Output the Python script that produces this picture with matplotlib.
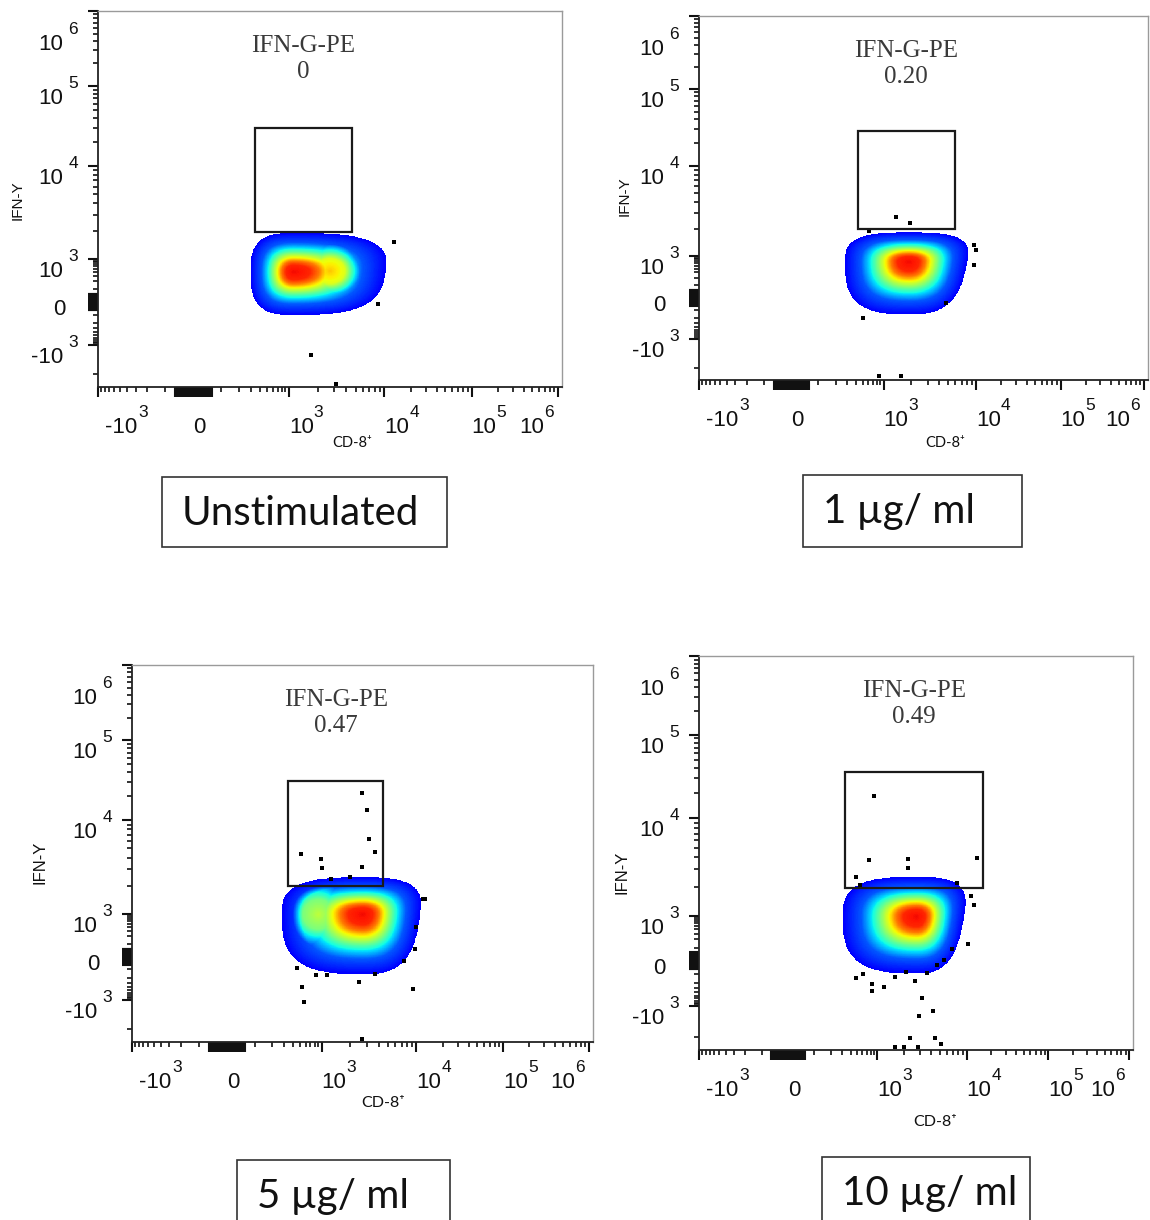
import numpy as np
import matplotlib
matplotlib.use('Agg')
import matplotlib.pyplot as plt
from matplotlib.patches import Rectangle

# ---------------- values ----------------
panel_names = ['Unstimulated', '1 µg/ ml', '5 µg/ ml', '10 µg/ ml']
gate_pct = ['0', '0.20', '0.47', '0.49']

# gate rectangles (CD-8 range, IFN-Y range)
gate_cd8 = [(334, 4570), (428, 5890), (344, 4470), (324, 15850)]
gate_ifn = [(1950, 29500), (2000, 28300), (1995, 30900), (1950, 35500)]

# outer edge of the cell cloud
cloud_cd8 = [(294, 12000), (276, 9300), (276, 12500), (304, 11200)]
cloud_ifn = [(-103, 1900), (-150, 1840), (-150, 2450), (-92, 2510)]

# densest spot and a weaker second lobe
peak_cd8 = [1120, 1880, 2720, 2750]
peak_ifn = [402, 665, 971, 960]
lobe_cd8 = [2700, np.nan, 900, np.nan]
lobe_ifn = [430, np.nan, 950, np.nan]
lobe_level = [0.7, 0, 0.58, 0]

# single events drawn outside the cloud
dots_cd8 = [
    [13100, 8700, 1700, 3160],
    [1350, 1950, 9500, 10000, 9500, 513, 4790, 860, 1550, 616],
    [2650, 3000, 3150, 3630, 513, 971, 1000, 2650, 1260, 2000,
     12000, 12600, 10000, 9700, 7400, 9100, 2500, 529, 562, 455,
     835, 1150, 3630, 2650],
    [887, 762, 2190, 2190, 13500, 483, 547, 7760, 11200, 12300,
     10500, 6760, 5620, 4680, 483, 616, 835, 835, 1180, 1590,
     2090, 2630, 3630, 3170, 4170, 2950, 2290, 4370, 5130, 1590,
     2000, 2880],
]
dots_ifn = [
    [1510, -15, -1700, -8500],
    [2690, 2340, 1320, 1180, 529, -200, -40, -8000, -8000, 1900],
    [22100, 13600, 6300, 4570, 4370, 3840, 3090, 3160, 2350, 2450,
     1450, 1450, 377, 53, -27, -455, -276, -402, -1100, -86,
     -160, -160, -150, -8500],
    [18600, 3700, 3820, 3080, 3960, 2520, 2090, 2190, 1610, 1280,
     135, 86, 6, -30, -135, -98, -227, -355, -276, -125,
     -78, -173, -92, -579, -1290, -1660, -5300, -5300, -7400, -8500,
     -8500, -8500],
]

major_vals = [-1000, 0, 1000, 1e4, 1e5, 1e6]


# ---------------- biexponential-like axis ----------------
def t_of(v):
    v = np.asarray(v, float)
    a = np.abs(v)
    inner = np.arcsinh(a / 100.0) / np.arcsinh(10.0)
    outer = 1 + np.log10(np.maximum(a, 1000.0) / 1000.0)
    return np.sign(v) * np.where(a <= 1000, inner, outer)


def v_of(t):
    t = np.asarray(t, float)
    a = np.abs(t)
    inner = 100 * np.sinh(np.minimum(a, 1) * np.arcsinh(10.0))
    outer = 1000 * 10 ** (np.maximum(a, 1) - 1)
    return np.sign(t) * np.where(a <= 1, inner, outer)


XT = [-2, -1, 0, 1, 2, 3, 4, 5]
XP = [-95, 0, 95, 190, 285, 372, 458, 544]
YT = [-3, -2, -1, 0, 1, 2, 3, 4, 5]
YP = [-42, 0, 42, 85, 128, 221, 301, 376, 451]


def fx(v):
    return np.interp(t_of(v), XT, XP)


def ix(p):
    return v_of(np.interp(p, XP, XT))


def fy(v):
    return np.interp(t_of(v), YT, YP)


def iy(p):
    return v_of(np.interp(p, YP, YT))


W, H = 1150, 1220
fig = plt.figure(figsize=(W / 100, H / 100), dpi=100)

frames = [(98, 11, 562, 387), (699, 16, 1148, 380),
          (132, 665, 593, 1042), (699, 656, 1133, 1050)]
ylab_pos = [(18, 200, 11), (625, 196, 11), (40, 862, 12), (622, 872, 12)]
xlab_pos = [(352, 443, 10.5), (945, 443, 10.5), (383, 1103, 11.5), (935, 1122, 11.5)]
name_box = [(162, 477, 447, 547), (803, 475, 1022, 547),
            (237, 1160, 450, 1260), (822, 1157, 1030, 1260)]
slant = [0.12, 0.25, 0.2, 0.3]

jet = plt.get_cmap('jet')
txt_col = '#111111'


def draw_cloud(ax, i):
    X0, X1 = fx(cloud_cd8[i])
    Y0, Y1 = fy(cloud_ifn[i])
    px, py = fx(peak_cd8[i]), fy(peak_ifn[i])
    gx = np.linspace(X0 - 1, X1 + 1, 360)
    gy = np.linspace(Y0 - 1, Y1 + 1, 240)
    PX, PY = np.meshgrid(gx, gy)
    dx, dy = PX - px, PY - py
    hv = np.clip((PY - Y0) / (Y1 - Y0), 0, 1)
    right = (X1 - px) * (1 - slant[i] * (1 - hv))
    ax_ = np.where(dx > 0, right, px - X0)
    ay_ = np.where(dy > 0, Y1 - py, py - Y0)
    ux, uy = np.abs(dx) / ax_, np.abs(dy) / ay_
    r2 = np.hypot(ux, uy)
    r3 = (ux ** 3 + uy ** 3) ** (1 / 3)
    wgt = np.clip(r2, 0, 1)
    rho = r2 * (1 - wgt) + r3 * wgt
    level = np.interp(rho, [0, 0.18, 0.28, 0.36, 0.44, 0.52, 0.62, 0.75, 1.0],
                      [0.9, 0.87, 0.78, 0.66, 0.56, 0.46, 0.34, 0.21, 0.12])
    if not np.isnan(lobe_cd8[i]):
        lx, ly = fx(lobe_cd8[i]), fy(lobe_ifn[i])
        rl = np.hypot((PX - lx) / (0.15 * (X1 - X0)), (PY - ly) / (0.22 * (Y1 - Y0)))
        lobe = np.interp(rl, [0, 0.7, 1.5], [lobe_level[i], lobe_level[i] - 0.08, 0.2])
        lobe = lobe * np.clip((1 - rho) / 0.25, 0, 1)
        level = np.maximum(level, lobe)
    level = np.ma.masked_where(rho > 1, level)
    ax.pcolormesh(ix(gx), iy(gy), level, cmap=jet, vmin=0, vmax=1,
                  shading='nearest', zorder=2)


for i, (l, t, r, b) in enumerate(frames):
    ax = fig.add_axes([l / W, 1 - b / H, (r - l) / W, (b - t) / H])
    ax.set_xscale('function', functions=(fx, ix))
    ax.set_yscale('function', functions=(fy, iy))
    ax.set_xlim(-1000, float(ix(462)))
    ax.set_ylim(float(iy(0)), 1e6)

    draw_cloud(ax, i)
    ax.scatter(dots_cd8[i], dots_ifn[i], s=5, marker='s', c='black',
               linewidths=0, zorder=3, clip_on=False)
    (gx0, gx1), (gy0, gy1) = gate_cd8[i], gate_ifn[i]
    ax.add_patch(Rectangle((gx0, gy0), gx1 - gx0, gy1 - gy0, fill=False,
                           ec='#1a1a1a', lw=1.6, zorder=4))

    # gate label, centred over the gate
    gxc = float(ix((fx(gx0) + fx(gx1)) / 2))
    for text, dy in [('IFN-G-PE', -35), (gate_pct[i], -61)]:
        ax.annotate(text, xy=(gxc, 1), xycoords=('data', 'axes fraction'),
                    xytext=(0, dy), textcoords='offset pixels', ha='center',
                    va='center', family='Liberation Serif', fontsize=18,
                    color='#3a3a3a')

    # ticks: the dense block round zero, the 100s and the log decades
    clump = [s * k for k in range(5, 65, 5) for s in (-1, 1)]
    inner = [s * k for k in range(100, 1000, 100) for s in (-1, 1)]
    logm = [k * 10 ** e for e in (3, 4, 5) for k in range(2, 10)]
    ax.set_xticks(major_vals + clump)
    ax.set_xticks(inner + logm, minor=True)
    ax.set_yticks(major_vals + clump)
    ax.set_yticks(inner + logm + [-5000], minor=True)
    ax.tick_params(which='major', direction='out', length=7, width=1.5,
                   color='#111111', labelbottom=False, labelleft=False)
    ax.tick_params(which='minor', direction='out', length=3.4, width=1.2,
                   color='#111111')
    for s in ('top', 'right'):
        ax.spines[s].set_color('#9a9a9a')
        ax.spines[s].set_linewidth(1.0)
    for s in ('left', 'bottom'):
        ax.spines[s].set_color('#222222')
        ax.spines[s].set_linewidth(1.3)

    # tick labels: "10" with a raised exponent
    fnt = dict(family='Liberation Sans', color=txt_col)
    for v in major_vals:
        if v == 0:
            parts = [('0', 0, -46, 16)]
        elif v < 0:
            parts = [('-10', 7, -46, 16), ('3', 40, -30, 12.5)]
        elif v == 1e6:
            parts = [('10', -39, -46, 16), ('6', -14, -30, 12.5)]
        else:
            parts = [('10', 0, -46, 16), (str(int(round(np.log10(v)))), 25, -30, 12.5)]
        for s, dx, dy, fs in parts:
            ax.annotate(s, xy=(v, 0), xycoords=('data', 'axes fraction'),
                        xytext=(dx, dy), textcoords='offset pixels',
                        ha='left', va='baseline', fontsize=fs, **fnt)
    for v in major_vals:
        if v == 0:
            parts = [('0', -33, -13, 16)]
        elif v == 1e6:
            parts = [('10', -35, -39, 16), ('6', -20, -23, 12.5)]
        else:
            e = '3' if abs(v) == 1000 else str(int(round(np.log10(v))))
            parts = [('-10' if v < 0 else '10', -35, -18, 16), (e, -20, -2, 12.5)]
        for s, dx, dy, fs in parts:
            ax.annotate(s, xy=(0, v), xycoords=('axes fraction', 'data'),
                        xytext=(dx, dy), textcoords='offset pixels',
                        ha='right', va='baseline', fontsize=fs, **fnt)

    # axis titles
    yx, yy, yfs = ylab_pos[i]
    fig.text(yx / W, 1 - yy / H, 'IFN-Y', rotation=90, ha='center', va='center',
             family='Liberation Sans', fontsize=yfs, color=txt_col)
    xx, xy, xfs = xlab_pos[i]
    fig.text(xx / W, 1 - xy / H, 'CD-8⁺', ha='center', va='center',
             family=['Lato', 'DejaVu Sans'], fontsize=xfs, color=txt_col)

    # condition box
    bl, bt, br, bb = name_box[i]
    fig.patches.append(Rectangle((bl / W, 1 - bb / H), (br - bl) / W, (bb - bt) / H,
                                 transform=fig.transFigure, fill=False,
                                 ec='#333333', lw=1.2))
    fig.text((bl + 20) / W, 1 - (bt + 48) / H, panel_names[i], ha='left',
             va='baseline', family=['Lato', 'DejaVu Sans'], fontsize=29,
             color='#111111')

fig.savefig('out.png', dpi=100)
